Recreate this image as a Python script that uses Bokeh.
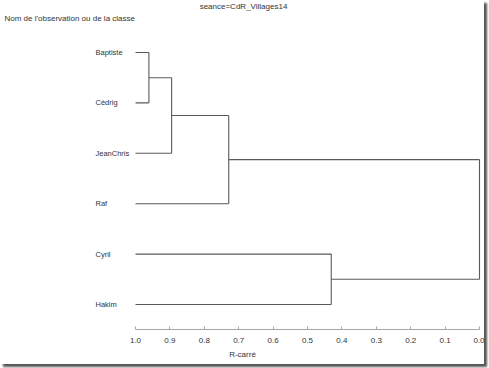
from bokeh.plotting import figure
from bokeh.models import Range1d, FixedTicker
from bokeh.core.properties import value
from bokeh.embed import file_html
from bokeh.resources import INLINE

# ---- data ----
leaves = ["Baptiste", "Cédrig", "JeanChris", "Raf", "Cyril", "Hakim"]
leaf_r2 = 1.0
merge_left = ["Baptiste", "CL5", "CL4", "Cyril", "CL3"]
merge_right = ["Cédrig", "JeanChris", "Raf", "Hakim", "CL2"]
merge_name = ["CL5", "CL4", "CL3", "CL2", "CL1"]
merge_r2 = [0.961, 0.895, 0.729, 0.431, 0.0]
tick_values = [0.0, 0.1, 0.2, 0.3, 0.4, 0.5, 0.6, 0.7, 0.8, 0.9, 1.0]
tick_labels = ["0.0", "0.1", "0.2", "0.3", "0.4", "0.5", "0.6", "0.7", "0.8", "0.9", "1.0"]
title_text = "seance=CdR_Villages14"
ylabel_text = "Nom de l'observation ou de la classe"
xlabel_text = "R-carré"

# ---- build dendrogram segments ----
pos = {n: float(i) for i, n in enumerate(leaves)}
hgt = {n: leaf_r2 for n in leaves}
x0, y0, x1, y1 = [], [], [], []
for l, r, n, h in zip(merge_left, merge_right, merge_name, merge_r2):
    ya, yb = pos[l], pos[r]
    ha, hb = hgt[l], hgt[r]
    x0 += [ha, hb, h]
    y0 += [ya, yb, ya]
    x1 += [h, h, h]
    y1 += [ya, yb, yb]
    pos[n] = (ya + yb) / 2
    hgt[n] = h

FONT = "Liberation Sans"
TXT = "#333333"
PX = 344.0     # pixels per unit of R-squared
PY = 50.4      # pixels per leaf

p = figure(width=484, height=364, output_backend="svg", toolbar_location=None,
           x_range=Range1d(1.0 + 135 / PX, 0.0 - 5 / PX),
           y_range=Range1d((329 - 52) / PY, -52 / PY),
           min_border_left=0, min_border_right=0,
           min_border_top=0, min_border_bottom=35,
           y_axis_location=None)
p.xgrid.visible = False
p.ygrid.visible = False
p.outline_line_color = None
p.background_fill_color = "white"
p.border_fill_color = "white"
p.styles = {"box-shadow": "3px 3px 2px #555555"}

p.segment(x0=x0, y0=y0, x1=x1, y1=y1, line_color="#5a5a5a", line_width=1.1)

ax = p.xaxis[0]
ax.ticker = FixedTicker(ticks=tick_values)
ax.major_label_overrides = dict(zip(tick_values, tick_labels))
ax.bounds = (0.0, 1.0)
ax.axis_line_color = "#a8a8a8"
ax.major_tick_line_color = "#a8a8a8"
ax.minor_tick_line_color = None
ax.major_tick_in = 3
ax.major_tick_out = 0
ax.major_label_standoff = 8
ax.major_label_text_font = FONT
ax.major_label_text_font_size = "8px"
ax.major_label_text_color = TXT
ax.axis_label = xlabel_text
ax.axis_label_standoff = 4
ax.axis_label_text_font = FONT
ax.axis_label_text_font_size = "8px"
ax.axis_label_text_font_style = "normal"
ax.axis_label_text_color = TXT

ys = [float(i) for i in range(len(leaves))]
p.text(x=[leaf_r2] * len(leaves), y=ys, text=leaves, x_offset=-40,
       text_align="left", text_baseline="middle",
       text_font=value(FONT), text_font_size="7.5px", text_color=TXT)

p.text(x=[leaf_r2], y=[0.0], text=[ylabel_text], x_offset=-131, y_offset=-34,
       text_align="left", text_baseline="middle",
       text_font=value(FONT), text_font_size="8px", text_color=TXT)
p.text(x=[leaf_r2], y=[0.0], text=[title_text], x_offset=108, y_offset=-46,
       text_align="center", text_baseline="middle",
       text_font=value(FONT), text_font_size="8px", text_color=TXT)

open("out.html", "w").write(file_html(p, INLINE))
